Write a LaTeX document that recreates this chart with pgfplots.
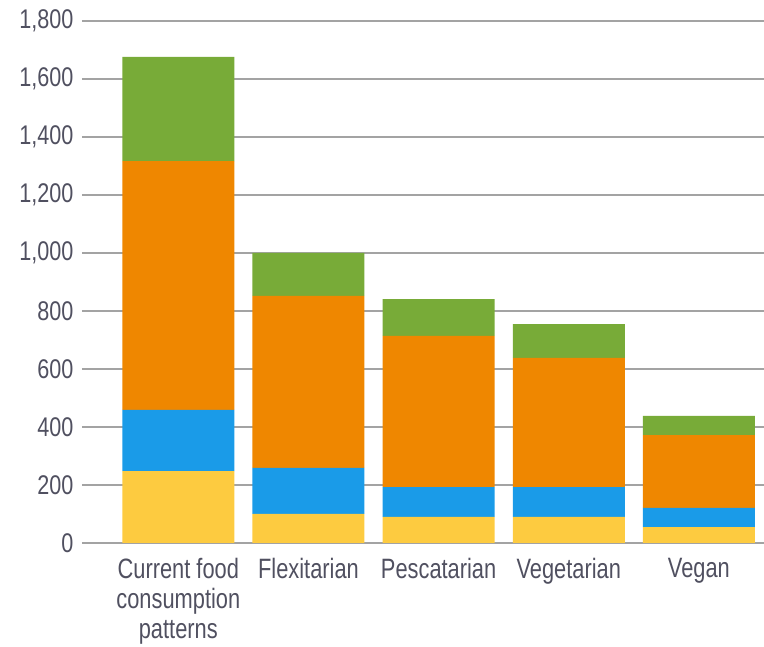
\documentclass[border=0pt]{standalone}
\usepackage{fontspec}
\setmainfont{Liberation Sans}[FakeStretch=0.8]
\newfontfamily\narrowfont{Liberation Sans}[FakeStretch=0.78]
\usepackage{pgfplots}
\pgfplotsset{compat=1.18}
\definecolor{cyel}{HTML}{FDCB40}
\definecolor{cblue}{HTML}{1A9BE8}
\definecolor{corange}{HTML}{EF8700}
\definecolor{cgreen}{HTML}{78AB38}
\definecolor{gridgray}{HTML}{A3A3A3}
\definecolor{labgray}{HTML}{505060}
\begin{document}
\begin{tikzpicture}
\useasboundingbox (-82pt,-104pt) rectangle (682pt,543pt);
\begin{axis}[
  at={(0,0)}, anchor=south west,
  scale only axis, width=682pt, height=522pt,
  xmin=-0.74, xmax=4.5, ymin=0, ymax=1800,
  ytick={0,200,...,1800},
  ymajorgrids, major grid style={color=gridgray, line width=2pt},
  axis line style={draw=none},
  major tick length=0pt,
  ybar stacked, bar width=112pt,
  xtick={0,1,2,3,4},
  xticklabels={{Current food\\consumption\\patterns},Flexitarian,Pescatarian,Vegetarian,Vegan},
  xticklabel style={align=center, font=\narrowfont\fontsize{28}{30}\selectfont, text=labgray, anchor=north, yshift=-12pt},
  yticklabel style={font=\fontsize{27}{30}\selectfont, text=labgray, xshift=-5pt},
  /pgf/number format/assume math mode=true,
  /pgf/number format/1000 sep={,},
  scaled y ticks=false,
]
\addplot[fill=cyel, draw=none] coordinates {(0,248) (1,100) (2,90) (3,90) (4,55)};
\addplot[fill=cblue, draw=none] coordinates {(0,211) (1,159) (2,103) (3,103) (4,66)};
\addplot[fill=corange, draw=none] coordinates {(0,858) (1,593) (2,521) (3,445) (4,251)};
\addplot[fill=cgreen, draw=none] coordinates {(0,359) (1,148) (2,127) (3,117) (4,66)};
\end{axis}
\end{tikzpicture}
\end{document}
